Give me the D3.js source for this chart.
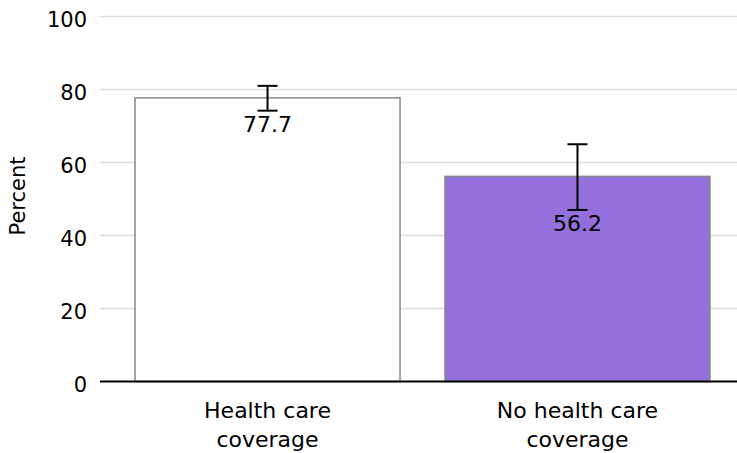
<!DOCTYPE html>
<html>
<head>
<meta charset="utf-8">
<script src="https://cdn.jsdelivr.net/npm/d3@7"></script>
<style>
  html, body { margin: 0; padding: 0; background: #fff; }
  svg { display: block; font-family: Verdana, "DejaVu Sans", sans-serif; }
</style>
</head>
<body>
<svg id="chart" width="737" height="453"></svg>
<script>
// Share of adults, by health care coverage status
const categories = ["Health care coverage", "No health care coverage"];
const categoryLines = [["Health care", "coverage"], ["No health care", "coverage"]];
const values = [77.7, 56.2];
const lowerCI = [74.2, 47.0];
const upperCI = [81.0, 65.0];
const fills = ["#ffffff", "#9370db"];
const yTicks = [0, 20, 40, 60, 80, 100];
const yTitle = "Percent";

const svg = d3.select("#chart");
const W = 737;
const plotLeft = 100, plotBottom = 381.5, plotTop = 16.5;
const fontSize = 21;

const y = d3.scaleLinear().domain([0, 100]).range([plotBottom, plotTop]);
const x = d3.scaleBand().domain(categories).range([plotLeft, 745])
  .paddingInner(0.145).paddingOuter(0.113);

// gridlines
svg.append("g").selectAll("line").data(yTicks.filter(d => d > 0)).join("line")
  .attr("x1", plotLeft).attr("x2", W)
  .attr("y1", d => y(d)).attr("y2", d => y(d))
  .attr("stroke", "#dddddd").attr("stroke-width", 1.5);

// y tick labels
svg.append("g").selectAll("text").data(yTicks).join("text")
  .attr("x", 87).attr("y", d => y(d) + 10.5)
  .attr("text-anchor", "end")
  .attr("font-size", fontSize).attr("fill", "#000")
  .text(d => d);

// y axis title
svg.append("text")
  .attr("transform", `translate(25,196) rotate(-90)`)
  .attr("text-anchor", "middle")
  .attr("font-size", 21).attr("fill", "#000")
  .text(yTitle);

// bars
svg.append("g").selectAll("rect").data(categories).join("rect")
  .attr("x", d => x(d)).attr("width", x.bandwidth())
  .attr("y", (d, i) => y(values[i]))
  .attr("height", (d, i) => y(0) - y(values[i]))
  .attr("fill", (d, i) => fills[i])
  .attr("stroke", "#888888").attr("stroke-width", 1.5);

// baseline
svg.append("line")
  .attr("x1", plotLeft).attr("x2", W).attr("y1", y(0)).attr("y2", y(0))
  .attr("stroke", "#000").attr("stroke-width", 2);

// error bars
const eb = svg.append("g").attr("stroke", "#000").attr("stroke-width", 2);
categories.forEach((c, i) => {
  const cx = x(c) + x.bandwidth() / 2;
  eb.append("line").attr("x1", cx).attr("x2", cx)
    .attr("y1", y(upperCI[i])).attr("y2", y(lowerCI[i]));
  [upperCI[i], lowerCI[i]].forEach(v => {
    eb.append("line").attr("x1", cx - 10).attr("x2", cx + 10)
      .attr("y1", y(v)).attr("y2", y(v));
  });
});

// value labels
svg.append("g").selectAll("text").data(categories).join("text")
  .attr("x", d => x(d) + x.bandwidth() / 2)
  .attr("y", (d, i) => y(lowerCI[i]) + 21)
  .attr("text-anchor", "middle")
  .attr("font-size", 22).attr("fill", "#000")
  .text((d, i) => values[i].toFixed(1));

// category labels
const xl = svg.append("g");
categories.forEach((c, i) => {
  const t = xl.append("text")
    .attr("x", x(c) + x.bandwidth() / 2).attr("y", 417.5)
    .attr("text-anchor", "middle")
    .attr("font-size", 22).attr("fill", "#000");
  categoryLines[i].forEach((ln, j) => {
    t.append("tspan").attr("x", x(c) + x.bandwidth() / 2)
      .attr("dy", j === 0 ? 0 : 29.5).text(ln);
  });
});
</script>
</body>
</html>
